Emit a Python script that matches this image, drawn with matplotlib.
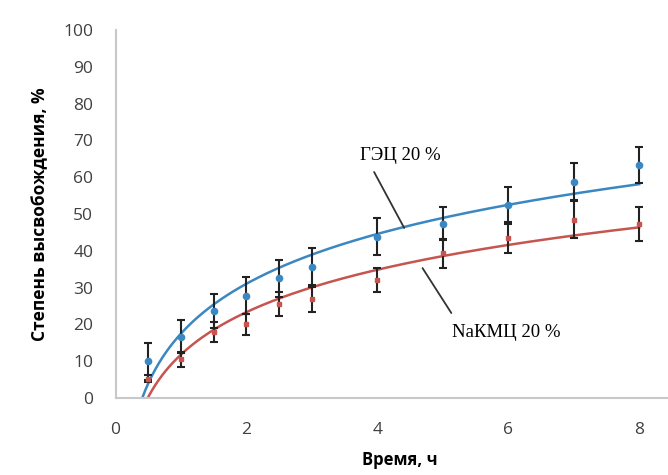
import numpy as np
import matplotlib
matplotlib.use('Agg')
import matplotlib.pyplot as plt

# время, ч
t = [0.5, 1, 1.5, 2, 2.5, 3, 4, 5, 6, 7, 8]
# ГЭЦ 20 %
gec = [10.0, 16.7, 23.7, 27.8, 32.5, 35.7, 43.8, 47.3, 52.4, 58.8, 63.3]
gec_err = [5.0, 4.5, 4.6, 5.0, 5.0, 5.0, 5.0, 4.5, 5.0, 5.0, 5.0]
# NaКМЦ 20 %
nak = [5.3, 10.5, 18.0, 20.0, 25.5, 26.8, 32.0, 39.3, 43.6, 48.4, 47.3]
nak_err = [1.0, 2.0, 2.7, 2.8, 3.3, 3.5, 3.2, 4.0, 4.3, 5.0, 4.7]

xticks = [0, 2, 4, 6, 8]
yticks = list(range(0, 101, 10))

blue = '#3b87c2'
red = '#c6554f'

fig = plt.figure(figsize=(6.68, 4.75), dpi=100)
ax = fig.add_axes([0.173, 0.162, 0.825, 0.775])

# логарифмические линии тренда (как в Excel)
tt = np.linspace(0.3, 8, 300)
for y, c in ((gec, blue), (nak, red)):
    a, b = np.polyfit(np.log(t), y, 1)
    ax.plot(tt, a * np.log(tt) + b, color=c, lw=1.8, zorder=2)

ax.errorbar(t, gec, yerr=gec_err, fmt='o', ms=4.5, color=blue,
            ecolor='#222222', elinewidth=1.5, capsize=3, capthick=1.5, zorder=3)
ax.errorbar(t, nak, yerr=nak_err, fmt='s', ms=3, color=red,
            ecolor='#222222', elinewidth=1.5, capsize=3, capthick=1.5, zorder=3)

ax.set_xlim(0, 8.42)
ax.set_ylim(0, 100)
ax.set_xticks(xticks)
ax.set_yticks(yticks)
ax.tick_params(length=0, labelsize=12.5, labelcolor='#404040')
ax.tick_params(axis='y', pad=16)
ax.tick_params(axis='x', pad=17)
for s in ('top', 'right'):
    ax.spines[s].set_visible(False)
for s in ('left', 'bottom'):
    ax.spines[s].set_color('#c8c8c8')
    ax.spines[s].set_linewidth(1.5)

for lab in ax.get_xticklabels() + ax.get_yticklabels():
    lab.set_family('Open Sans')

ax.set_xlabel('Время, ч', family='Open Sans', fontweight='bold', fontsize=12)
ax.xaxis.set_label_coords(0.515, -0.143)
ax.set_ylabel('Степень высвобождения, %', family='Open Sans', fontweight='bold',
              fontsize=12.5)
ax.yaxis.set_label_coords(-0.12, 0.5)

# подписи кривых с выносками
ax.text(4.35, 66.0, 'ГЭЦ 20 %', ha='center', va='center',
        family='Liberation Serif', fontsize=13.5)
ax.annotate('', xy=(4.41, 46.2), xytext=(3.95, 61.4),
            arrowprops=dict(arrowstyle='-', color='#333333', lw=1.3,
                            shrinkA=0, shrinkB=0))
ax.text(5.97, 17.7, 'NaКМЦ 20 %', ha='center', va='center',
        family='Liberation Serif', fontsize=13.5)
ax.annotate('', xy=(4.69, 35.3), xytext=(5.13, 23.1),
            arrowprops=dict(arrowstyle='-', color='#333333', lw=1.3,
                            shrinkA=0, shrinkB=0))

fig.savefig('out.png', dpi=100)
